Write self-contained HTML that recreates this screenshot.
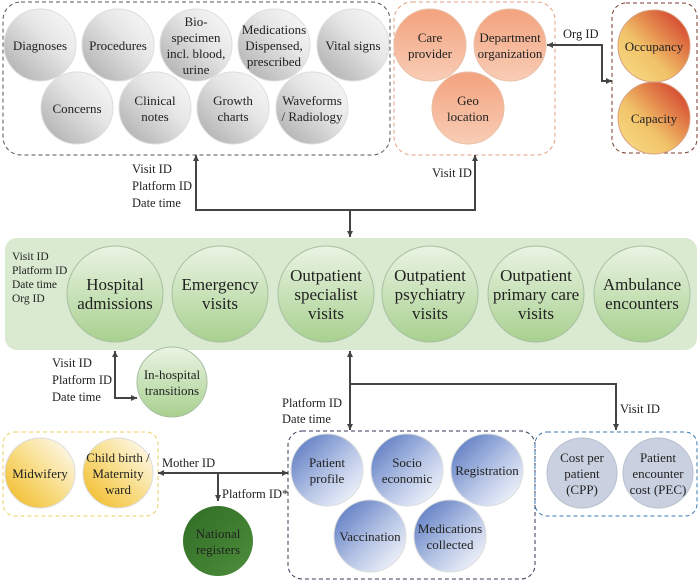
<!DOCTYPE html>
<html><head><meta charset="utf-8"><style>
html,body{margin:0;padding:0;background:#fff;}
svg text{font-family:"Liberation Serif",serif;fill:#222;}
</style></head><body>
<svg width="700" height="582" viewBox="0 0 700 582" xmlns="http://www.w3.org/2000/svg">
<defs>
<linearGradient id="gray" x1="0" y1="1" x2="1" y2="0"><stop offset="0" stop-color="#a9a9a9"/><stop offset="0.6" stop-color="#e6e6e6"/><stop offset="1" stop-color="#fbfbfb"/></linearGradient>
<linearGradient id="orange" x1="0" y1="0" x2="0" y2="1"><stop offset="0" stop-color="#f3a27e"/><stop offset="1" stop-color="#f8cdb6"/></linearGradient>
<linearGradient id="red" x1="0" y1="1" x2="1" y2="0"><stop offset="0" stop-color="#f8e08a"/><stop offset="0.4" stop-color="#f1c268"/><stop offset="1" stop-color="#cf2a22"/></linearGradient>
<linearGradient id="green" x1="0" y1="0" x2="0" y2="1"><stop offset="0" stop-color="#eaf4e3"/><stop offset="1" stop-color="#a8d08f"/></linearGradient>
<linearGradient id="blue" x1="0" y1="0" x2="1" y2="1"><stop offset="0" stop-color="#4d6fbd"/><stop offset="0.55" stop-color="#b8c6e6"/><stop offset="1" stop-color="#ffffff"/></linearGradient>
<linearGradient id="yellow" x1="0" y1="1" x2="1" y2="0"><stop offset="0" stop-color="#f0b820"/><stop offset="0.5" stop-color="#f8dd88"/><stop offset="1" stop-color="#ffffff"/></linearGradient>
<linearGradient id="dgreen" x1="0" y1="0" x2="1" y2="1"><stop offset="0" stop-color="#2f6d25"/><stop offset="1" stop-color="#4e8e3c"/></linearGradient>
<marker id="ar" markerWidth="8" markerHeight="8" refX="6" refY="3" orient="auto" markerUnits="userSpaceOnUse"><path d="M0,0 L6,3 L0,6 z" fill="#444"/></marker>
<marker id="as" markerWidth="8" markerHeight="8" refX="0" refY="3" orient="auto" markerUnits="userSpaceOnUse"><path d="M6,0 L0,3 L6,6 z" fill="#444"/></marker>
</defs>

<rect x="3" y="2" width="387" height="153" rx="18" fill="none" stroke="#555" stroke-dasharray="4,3"/>
<rect x="394" y="2" width="161" height="153" rx="18" fill="none" stroke="#e0a080" stroke-dasharray="4,3"/>
<rect x="612" y="3" width="85" height="150" rx="14" fill="none" stroke="#7a3a2a" stroke-dasharray="4,3"/>
<rect x="5" y="238" width="692" height="112" rx="12" fill="#d9ead0"/>
<rect x="3" y="432" width="155" height="84" rx="12" fill="none" stroke="#e8d060" stroke-dasharray="4,3"/>
<rect x="288" y="431" width="247" height="148" rx="14" fill="none" stroke="#333a55" stroke-dasharray="4,3"/>
<rect x="535" y="432" width="162" height="84" rx="12" fill="none" stroke="#3a7ab0" stroke-dasharray="4,3"/>

<g stroke="#444" stroke-width="2" fill="none">
<polyline points="196,155 196,210 475,210 475,155" marker-start="url(#as)" marker-end="url(#ar)"/>
<line x1="350" y1="210" x2="350" y2="237" marker-end="url(#ar)"/>
<polyline points="547,45 602,45 602,81 612,81" marker-start="url(#as)" marker-end="url(#ar)"/>
<polyline points="115,351 115,398 137,398" marker-start="url(#as)" marker-end="url(#ar)"/>
<line x1="350" y1="351" x2="350" y2="430" marker-start="url(#as)" marker-end="url(#ar)"/>
<polyline points="350,384 616,384 616,430" marker-end="url(#ar)"/>
<line x1="158" y1="473" x2="288" y2="473" marker-start="url(#as)" marker-end="url(#ar)"/>
<line x1="218" y1="473" x2="218" y2="501" marker-end="url(#ar)"/>
</g>

<g font-size="12.5">
<text x="132" y="173">Visit ID</text><text x="132" y="190">Platform ID</text><text x="132" y="207">Date time</text>
<text x="432" y="177">Visit ID</text>
<text x="563" y="38">Org ID</text>
<text x="52" y="367">Visit ID</text><text x="52" y="384">Platform ID</text><text x="52" y="401">Date time</text>
<text x="282" y="407">Platform ID</text><text x="282" y="423">Date time</text>
<text x="620" y="413">Visit ID</text>
<text x="162" y="467">Mother ID</text>
<text x="222" y="498">Platform ID*</text>
</g>
<g font-size="11.5">
<text x="12" y="260">Visit ID</text><text x="12" y="274">Platform ID</text><text x="12" y="288">Date time</text><text x="12" y="302">Org ID</text>
</g>

<g stroke="#ddd" fill="url(#gray)">
<circle cx="40" cy="45" r="36"/><circle cx="118" cy="45" r="36"/><circle cx="196" cy="45" r="36"/><circle cx="274" cy="45" r="36"/><circle cx="353" cy="45" r="36"/>
<circle cx="77" cy="108" r="36"/><circle cx="155" cy="108" r="36"/><circle cx="233" cy="108" r="36"/><circle cx="312" cy="108" r="36"/>
</g>
<g font-size="13" text-anchor="middle">
<text x="40" y="50">Diagnoses</text>
<text x="118" y="50">Procedures</text>
<text x="196" y="26">Bio-</text><text x="196" y="42">specimen</text><text x="196" y="58">incl. blood,</text><text x="196" y="74">urine</text>
<text x="274" y="34">Medications</text><text x="274" y="50">Dispensed,</text><text x="274" y="66">prescribed</text>
<text x="353" y="50">Vital signs</text>
<text x="77" y="113">Concerns</text>
<text x="155" y="105">Clinical</text><text x="155" y="121">notes</text>
<text x="233" y="105">Growth</text><text x="233" y="121">charts</text>
<text x="312" y="105">Waveforms</text><text x="312" y="121">/ Radiology</text>
</g>

<g stroke="#e8c0a8" fill="url(#orange)">
<circle cx="430" cy="45" r="36"/><circle cx="510" cy="45" r="36"/><circle cx="468" cy="108" r="36"/>
</g>
<g font-size="13" text-anchor="middle">
<text x="430" y="42">Care</text><text x="430" y="58">provider</text>
<text x="510" y="42">Department</text><text x="510" y="58">organization</text>
<text x="468" y="105">Geo</text><text x="468" y="121">location</text>
</g>

<g stroke="#d8a080" fill="url(#red)">
<circle cx="654" cy="46" r="36"/><circle cx="654" cy="118" r="36"/>
</g>
<g font-size="13" text-anchor="middle">
<text x="654" y="51">Occupancy</text><text x="654" y="123">Capacity</text>
</g>

<g stroke="#a8bfa0" fill="url(#green)">
<circle cx="115" cy="294" r="48"/><circle cx="220" cy="294" r="48"/><circle cx="326" cy="294" r="48"/><circle cx="430" cy="294" r="48"/><circle cx="536" cy="294" r="48"/><circle cx="642" cy="294" r="48"/>
<circle cx="172" cy="382" r="35"/>
</g>
<g font-size="17" text-anchor="middle">
<text x="115" y="290">Hospital</text><text x="115" y="309">admissions</text>
<text x="220" y="290">Emergency</text><text x="220" y="309">visits</text>
<text x="326" y="281">Outpatient</text><text x="326" y="300">specialist</text><text x="326" y="319">visits</text>
<text x="430" y="281">Outpatient</text><text x="430" y="300">psychiatry</text><text x="430" y="319">visits</text>
<text x="536" y="281">Outpatient</text><text x="536" y="300">primary care</text><text x="536" y="319">visits</text>
<text x="642" y="290">Ambulance</text><text x="642" y="309">encounters</text>
</g>
<g font-size="13" text-anchor="middle">
<text x="172" y="379">In-hospital</text><text x="172" y="395">transitions</text>
</g>

<g stroke="#ddd" fill="url(#yellow)">
<circle cx="40" cy="473" r="35"/><circle cx="118" cy="473" r="35"/>
</g>
<g font-size="13" text-anchor="middle">
<text x="40" y="478">Midwifery</text>
<text x="118" y="462">Child birth /</text><text x="118" y="478">Maternity</text><text x="118" y="494">ward</text>
</g>

<circle cx="218" cy="541" r="35" fill="url(#dgreen)"/>
<g font-size="13" text-anchor="middle"><text x="218" y="538">National</text><text x="218" y="554">registers</text></g>

<g stroke="#ddd" fill="url(#blue)">
<circle cx="327" cy="470" r="36"/><circle cx="407" cy="470" r="36"/><circle cx="487" cy="470" r="36"/>
<circle cx="370" cy="536" r="36"/><circle cx="450" cy="536" r="36"/>
</g>
<g font-size="13" text-anchor="middle">
<text x="327" y="467">Patient</text><text x="327" y="483">profile</text>
<text x="407" y="467">Socio</text><text x="407" y="483">economic</text>
<text x="487" y="475">Registration</text>
<text x="370" y="541">Vaccination</text>
<text x="450" y="533">Medications</text><text x="450" y="549">collected</text>
</g>

<g stroke="#b8c0d0" fill="#c9d0e0">
<circle cx="582" cy="473" r="35"/><circle cx="658" cy="473" r="35"/>
</g>
<g font-size="13" text-anchor="middle">
<text x="582" y="462">Cost per</text><text x="582" y="478">patient</text><text x="582" y="494">(CPP)</text>
<text x="658" y="462">Patient</text><text x="658" y="478">encounter</text><text x="658" y="494">cost (PEC)</text>
</g>
</svg>
</body></html>
